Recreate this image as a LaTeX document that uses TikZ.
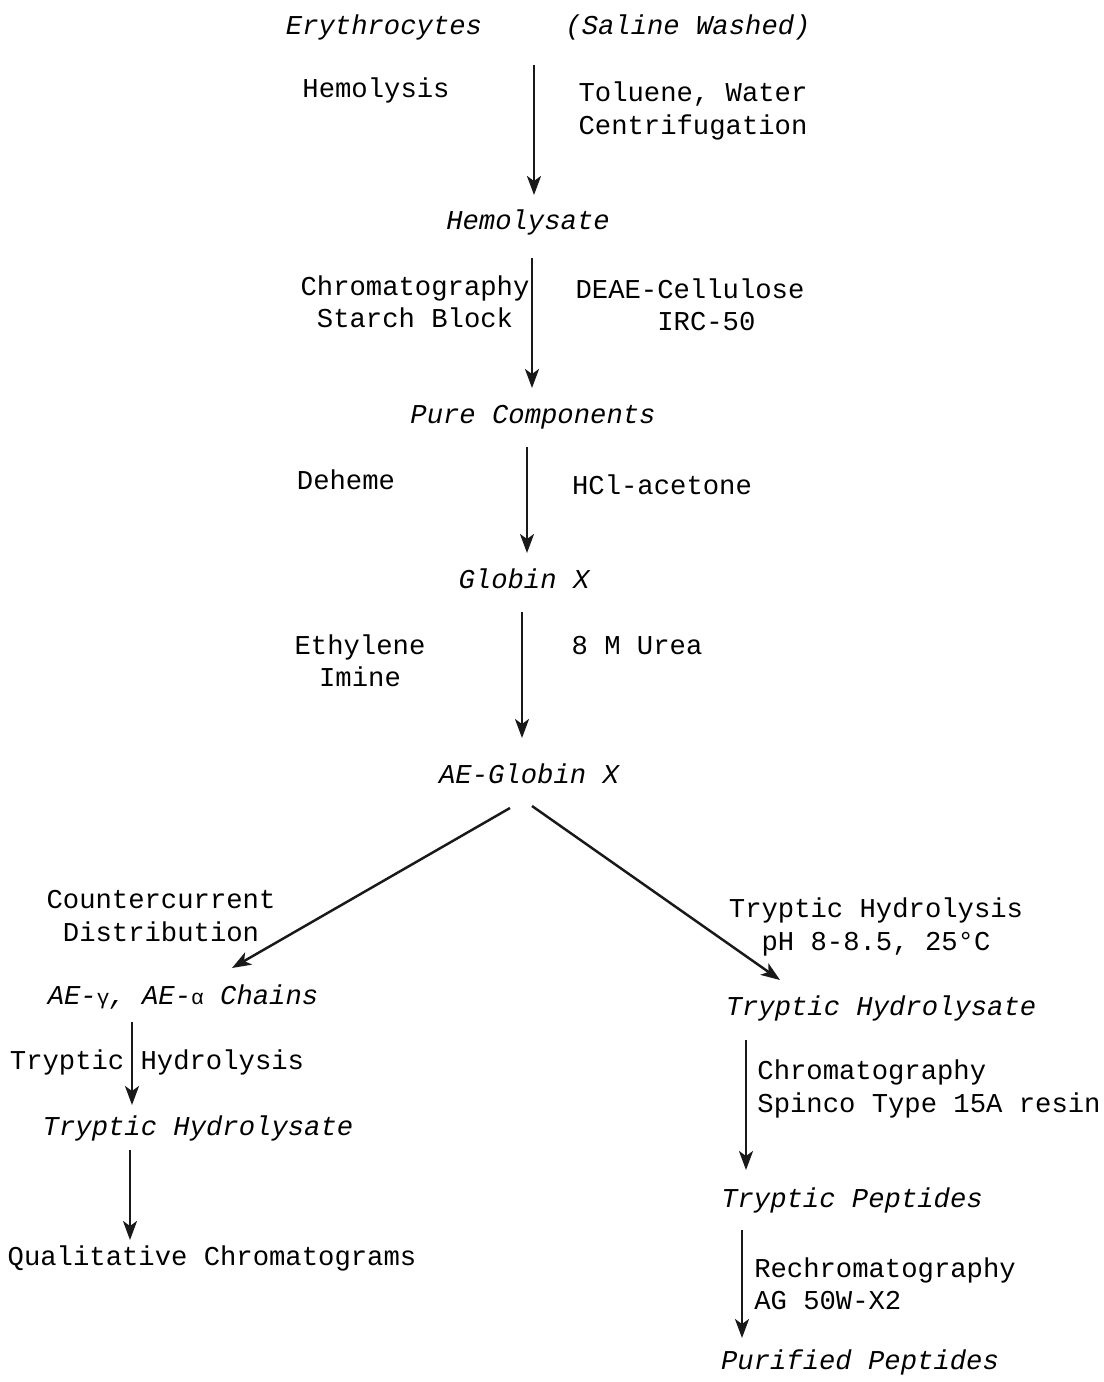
\documentclass[tikz,border=0pt]{standalone}
\usepackage{fontspec}
\setmonofont{Liberation Mono}
\usetikzlibrary{arrows.meta,calc,positioning}
\tikzset{
  step text/.style  = {font=\ttfamily\fontsize{15.5}{18.4}\selectfont, inner sep=0pt, text=black},
  product/.style    = {step text, font=\ttfamily\itshape\fontsize{15.5}{18.4}\selectfont},
  reagent/.style    = {step text, align=left},
  flow/.style       = {-{Stealth[length=0.38cm,width=0.28cm,inset=0.1cm]}, line width=1.4pt, black!90},
}
\newcommand{\greeksmall}[1]{{\upshape\fontsize{12}{14}\selectfont #1}}

\begin{document}
\begin{tikzpicture}[x=0.02cm, y=-0.02cm,
    every node/.style={step text},
  ]
  \useasboundingbox[fill=white] (0,0) rectangle (1104,1382);

  % ---- main column: erythrocytes down to AE-globin -----------------------
  \node[product] (ery)    at (384,27)  {Erythrocytes};
  \node[product] (saline) at (688,27)  {(Saline Washed)};
  \node (hemolysis)       at (376,90)  {Hemolysis};
  \node[reagent] (tolu)   at (693,111) {Toluene, Water\\Centrifugation};
  \node[product] (hemo)   at (528,222) {Hemolysate};

  \node[align=center] (chromA) at (415,302) {Chromatography\\Starch Block};
  \node[align=center] (deae)   at (690,305) {DEAE-Cellulose\\\hphantom{XX}IRC-50};
  \node[product] (pure)   at (533,417) {Pure Components};

  \node (deheme)          at (346,480) {Deheme};
  \node (hcl)             at (662,485) {HCl-acetone};
  \node[product] (globin) at (524,579) {Globin X};

  \node[align=center] (ethyl) at (360,661) {Ethylene\\Imine};
  \node (urea)            at (637,646) {8 M Urea};
  \node[product] (aeg)    at (529,774) {AE-Globin X};

  \draw[flow] ([shift={(150,38)}]ery.center)  -- ([shift={(6,-27)}]hemo.center);
  \draw[flow] ([shift={(4,36)}]hemo.center)   -- ([shift={(-1,-29)}]pure.center);
  \draw[flow] ([shift={(-6,30)}]pure.center)  -- ([shift={(3,-26)}]globin.center);
  \draw[flow] ([shift={(-2,33)}]globin.center) -- ([shift={(-7,-36)}]aeg.center);

  % ---- left branch: separated chains --------------------------------------
  \node[align=center] (counter) at (161,916) {Countercurrent\\Distribution};
  \node[product] (chains) at (183,997) {AE-\greeksmall{γ}, AE-\greeksmall{α} Chains};
  \node (hydL)            at (157,1062) {Tryptic Hydrolysis};
  \node[product] (thydL)  at (198,1128) {Tryptic Hydrolysate};
  \node (qual)            at (212,1258) {Qualitative Chromatograms};

  \draw[flow] ([shift={(-19,34)}]aeg.center)  -- ([shift={(49,-29)}]chains.center);
  \draw[flow] ([shift={(-51,25)}]chains.center) -- ([shift={(-66,-23)}]thydL.center);
  \draw[flow] ([shift={(-68,22)}]thydL.center) -- ([shift={(-82,-18)}]qual.center);

  % ---- right branch: peptides ---------------------------------------------
  \node[align=center] (hydR) at (876,927) {Tryptic Hydrolysis\\pH 8-8.5, 25°C};
  \node[product] (thydR)  at (881,1008) {Tryptic Hydrolysate};
  \node[reagent] (chromB) at (929,1089) {Chromatography\\Spinco Type 15A resin};
  \node[product] (pept)   at (852,1200) {Tryptic Peptides};
  \node[reagent] (rechr)  at (885,1284) {Rechromatography\\AG 50W-X2};
  \node[product] (purif)  at (860,1362) {Purified Peptides};

  \draw[flow] ([shift={(3,32)}]aeg.center)      -- ([shift={(-101,-28)}]thydR.center);
  \draw[flow] ([shift={(-135,32)}]thydR.center) -- ([shift={(-106,-30)}]pept.center);
  \draw[flow] ([shift={(-110,30)}]pept.center)  -- ([shift={(-118,-24)}]purif.center);
\end{tikzpicture}
\end{document}
